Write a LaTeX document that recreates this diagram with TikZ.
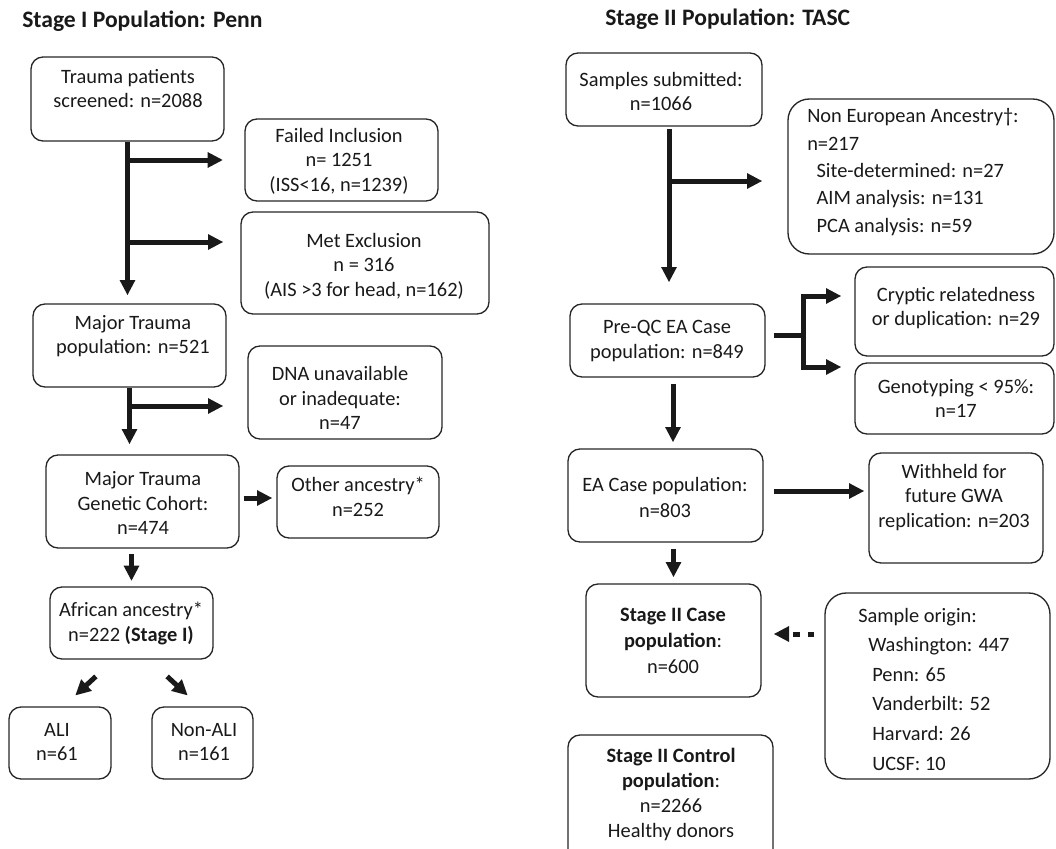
\documentclass[tikz,border=0pt]{standalone}
\usepackage{fontspec}
\setmainfont{Carlito}
\usetikzlibrary{arrows.meta,calc,fit}
\begin{document}
\begin{tikzpicture}[x=0.75pt,y=-0.75pt,
  box/.style={draw=black!85, line width=1pt, rounded corners=9pt, inner sep=0pt},
  bigbox/.style={box, rounded corners=16pt},
  txt/.style={align=center, font=\fontsize{15.3}{18.5}\selectfont, inner sep=0pt, text=black!90},
  ltxt/.style={txt, align=left, anchor=west},
  ttl/.style={font=\fontsize{17.7}{20}\selectfont\bfseries, anchor=base west, inner sep=0pt, text=black!90},
  arr/.style={line width=3.75pt, draw=black!90, -{Triangle[length=11.5pt,width=11pt]}},
  thk/.style={line width=3.75pt, draw=black!90},
  dsh/.style={arr, dash pattern=on 5pt off 6pt},
]
\useasboundingbox (0,0) rectangle (1056,849);

% titles
\node[ttl] (t1) at (22,28) {Stage I Population: Penn};
\node[ttl] (t2) at (605,26) {Stage II Population: TASC};

% ---------------- left column boxes
\node[box, fit={(31,57) (224,141)}] (A) {};
\node[txt] (A-t) at (128,88.5) {Trauma patients\\screened: n=2088};
\node[box, fit={(245,119) (438,201)}] (B) {};
\node[txt] (B-t) at (339,161) {Failed Inclusion\\n= 1251\\(ISS<16, n=1239)};
\node[box, fit={(241,212) (489,314)}] (C) {};
\node[txt] (C-t) at (364,266) {Met Exclusion\\n = 316\\(AIS >3 for head, n=162)};
\node[box, fit={(33,304) (226,387)}] (D) {};
\node[txt] (D-t) at (133,336) {Major Trauma\\population: n=521};
\node[box, fit={(248,346) (442,439)}] (E) {};
\node[txt] (E-t) at (340,398) {DNA unavailable\\or inadequate:\\n=47};
\node[box, fit={(46,455) (239,548)}] (F) {};
\node[txt] (F-t) at (143,503) {Major Trauma\\Genetic Cohort:\\n=474};
\node[box, fit={(277,466) (439,538)}] (G) {};
\node[txt] (G-t) at (358,497) {Other ancestry*\\n=252};
\node[box, fit={(50,587) (213,659)}] (H) {};
\node[txt] (H-t) at (131,623.5) {African ancestry*\\n=222 \textbf{(Stage I)}};
\node[box, fit={(9,707) (111,779)}] (I) {};
\node[txt] (I-t) at (57,742) {ALI\\n=61};
\node[box, fit={(152,707) (253,779)}] (J) {};
\node[txt] (J-t) at (204,742) {Non-ALI\\n=161};

% ---------------- left column arrows
\draw[arr, shorten >=6pt] (A.south) -- (A.south |- D.north);
\draw[arr, shorten >=16pt] (A.south |- B.west) -- (B.west);
\coordinate (c1) at ($(C.west)+(0,-21)$);
\draw[arr, shorten >=12.75pt] (A.south |- c1) -- (c1);
\draw[arr, shorten >=7.5pt] (D.south) -- (D.south |- F.north);
\coordinate (e1) at ($(E.west)+(0,13.5)$);
\draw[arr, shorten >=18pt] (D.south |- e1) -- (e1);
\coordinate (g1) at ($(G.west)+(0,-4)$);
\draw[arr, shorten <=3pt, shorten >=3pt] (F.east |- g1) -- (g1);
\draw[arr, shorten <=4pt, shorten >=4pt] (H.north |- F.south) -- (H.north);
\draw[arr, shorten <=18.5pt, shorten >=12pt] ($(H.south)+(-17.5,0)$) -- ($(I.north)+(3.5,0)$);
\draw[arr, shorten <=18.5pt, shorten >=12pt] ($(H.south)+(17.5,0)$) -- ($(J.north)+(-3,0)$);

% ---------------- right column boxes
\node[box, fit={(566,53) (762,126)}] (K) {};
\node[txt] (K-t) at (661,91.5) {Samples submitted:\\n=1066};
\node[bigbox, fit={(788,99) (1054,254)}] (L) {};
\node[ltxt, font=\fontsize{15.3}{20.5}\selectfont] (L-t) at (807,172) {Non European Ancestry†:\\n=217\\\hspace*{7pt}Site-determined: n=27\\\hspace*{7pt}AIM analysis: n=131\\\hspace*{7pt}PCA analysis: n=59};
\node[box, fit={(570,304) (765,377)}] (M) {};
\node[txt] (M-t) at (667,341) {Pre-QC EA Case\\population: n=849};
\node[box, fit={(855,267) (1054,356)}] (N) {};
\node[txt] (N-t) at (956,308) {Cryptic relatedness\\or duplication: n=29};
\node[box, fit={(855,363) (1054,434)}] (O) {};
\node[txt] (O-t) at (956,398.5) {Genotyping < 95\%:\\n=17};
\node[box, fit={(568,449) (763,542)}] (P) {};
\node[txt, font=\fontsize{15.3}{20}\selectfont] (P-t) at (665,497.5) {EA Case population:\\n=803};
\node[box, fit={(869,453) (1043,563)}] (Q) {};
\node[txt] (Q-t) at (954,497.5) {Withheld for\\future GWA\\replication: n=203};
\node[box, fit={(586,584) (761,697)}] (R) {};
\node[txt, font=\fontsize{15.3}{19.5}\selectfont] (R-t) at (673,641) {\textbf{Stage II Case}\\\textbf{population}:\\n=600};
\node[bigbox, fit={(825,593) (1050,779)}] (S) {};
\node[ltxt, font=\fontsize{15.3}{22.2}\selectfont] (S-t) at (858,689) {Sample origin:\\\hspace*{7.5pt}Washington: 447\\\hspace*{10.5pt}Penn: 65\\\hspace*{10.5pt}Vanderbilt: 52\\\hspace*{10.5pt}Harvard: 26\\\hspace*{10.5pt}UCSF: 10};
\node[box, fit={(568,735) (773,862)}] (T) {};
\node[txt, font=\fontsize{15.3}{18.75}\selectfont] (T-t) at (671,794.5) {\textbf{Stage II Control}\\\textbf{population}:\\n=2266\\Healthy donors};

% ---------------- right column arrows
\draw[arr, shorten <=2pt, shorten >=15.75pt] ($(K.south)+(5,0)$) -- ($(K.south |- M.north)+(5,0)$);
\draw[arr, shorten >=18.75pt] ($(K.south |- L.west)+(5,4.5)$) -- ($(L.west)+(0,4.5)$);
\coordinate (f) at (803,335);
\draw[thk, shorten <=6pt] (M.east |- f) -- (f);
\coordinate (n1) at ($(N.west)+(0,-15.5)$);
\coordinate (o1) at ($(O.west)+(0,-31.5)$);
\draw[arr, shorten >=9.75pt] (f) |- (n1);
\draw[arr, shorten >=9.75pt] (f) |- (o1);
\draw[arr, shorten <=4.5pt, shorten >=4.5pt] ($(M.south)+(5.5,0)$) -- ($(M.south |- P.north)+(5.5,0)$);
\coordinate (q1) at ($(Q.west)+(0,-17)$);
\draw[arr, shorten <=7.5pt, shorten >=3pt] (P.east |- q1) -- (q1);
\draw[arr, shorten <=4.5pt, shorten >=4.5pt] (R.north |- P.south) -- (R.north);
\coordinate (r1) at ($(R.east)+(0,-6.5)$);
\draw[dsh, shorten <=7.5pt, shorten >=9pt] (S.west |- r1) -- (r1);
\end{tikzpicture}
\end{document}
